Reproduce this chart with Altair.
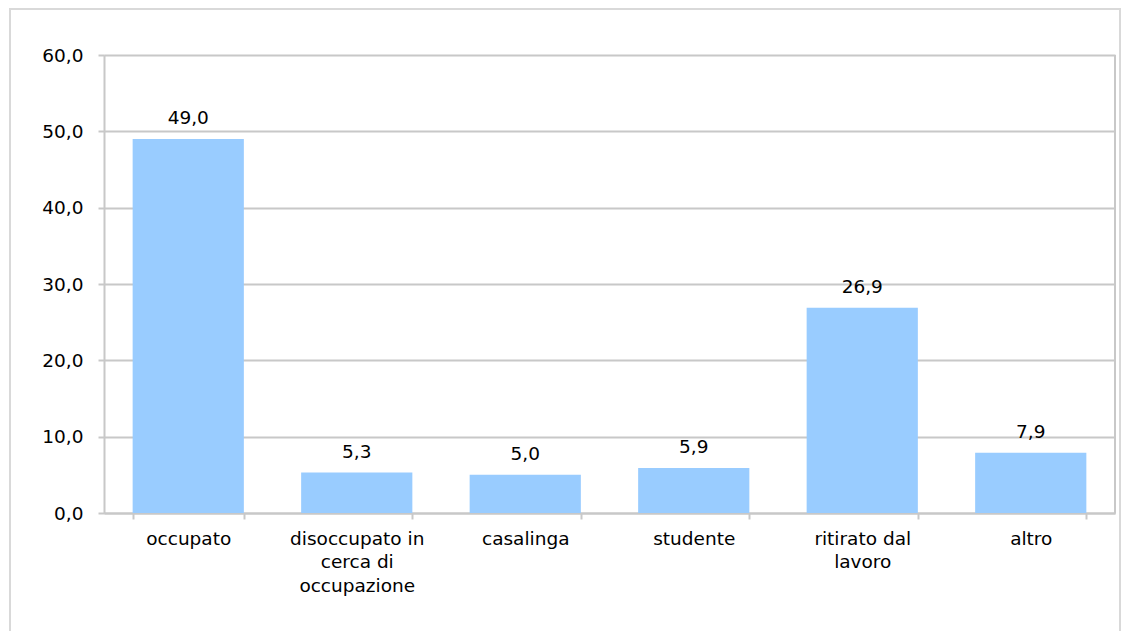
import altair as alt
import pandas as pd

categories = ["occupato", "disoccupato in\ncerca di\noccupazione", "casalinga",
              "studente", "ritirato dal\nlavoro", "altro"]
values = [49.0, 5.3, 5.0, 5.9, 26.9, 7.9]
labels = ["49,0", "5,3", "5,0", "5,9", "26,9", "7,9"]
y_ticks = [0, 10, 20, 30, 40, 50, 60]

df = pd.DataFrame({"cat": categories, "val": values, "lab": labels})

FONT = "DejaVu Sans"
FS = 18.5
W, H = 1011, 458

x_enc = alt.X("cat:N", sort=categories, title=None,
              scale=alt.Scale(paddingInner=0.34, paddingOuter=0.17),
              axis=alt.Axis(labelExpr="split(datum.label, '\\n')", labelAngle=0,
                            labelFont=FONT, labelFontSize=FS, labelColor="#000000",
                            labelLineHeight=23.5, labelPadding=10,
                            tickBand="extent", tickSize=6, tickColor="#c8c8c8",
                            tickWidth=2, domainColor="#c8c8c8", domainWidth=2,
                            grid=False))
y_enc = alt.Y("val:Q", title=None,
              scale=alt.Scale(domain=[0, 60], nice=False),
              axis=alt.Axis(values=y_ticks,
                            labelExpr="replace(format(datum.value, '.1f'), '.', ',')",
                            labelFont=FONT, labelFontSize=FS, labelColor="#000000",
                            labelPadding=15, tickSize=6, tickColor="#c8c8c8",
                            tickWidth=2, domainColor="#c8c8c8", domainWidth=2,
                            grid=True, gridColor="#c8c8c8", gridWidth=2))

bars = alt.Chart(df).mark_bar(color="#99CCFF").encode(x=x_enc, y=y_enc)

texts = alt.Chart(df).mark_text(font=FONT, fontSize=FS, color="#000000",
                                baseline="alphabetic", dy=-15).encode(
    x=alt.X("cat:N", sort=categories),
    y=alt.Y("val:Q"),
    text="lab:N")

frame = alt.Chart(df).mark_rect(filled=False, stroke="#d9d9d9", strokeWidth=2).encode(
    x=alt.value(-94), x2=alt.value(1016), y=alt.value(-46), y2=alt.value(640))

right_border = alt.Chart(df).mark_rule(color="#c8c8c8", strokeWidth=2).encode(
    x=alt.value(W), y=alt.value(0), y2=alt.value(H))

chart = alt.layer(frame, bars, texts, right_border).properties(
    width=W, height=H,
    autosize=alt.AutoSizeParams(type="none"),
    padding={"left": 96, "top": 47, "right": 7, "bottom": 118},
).configure_view(stroke=None).configure(background="#ffffff")

chart.save("out.html", embed_options={"renderer": "svg", "actions": False})
